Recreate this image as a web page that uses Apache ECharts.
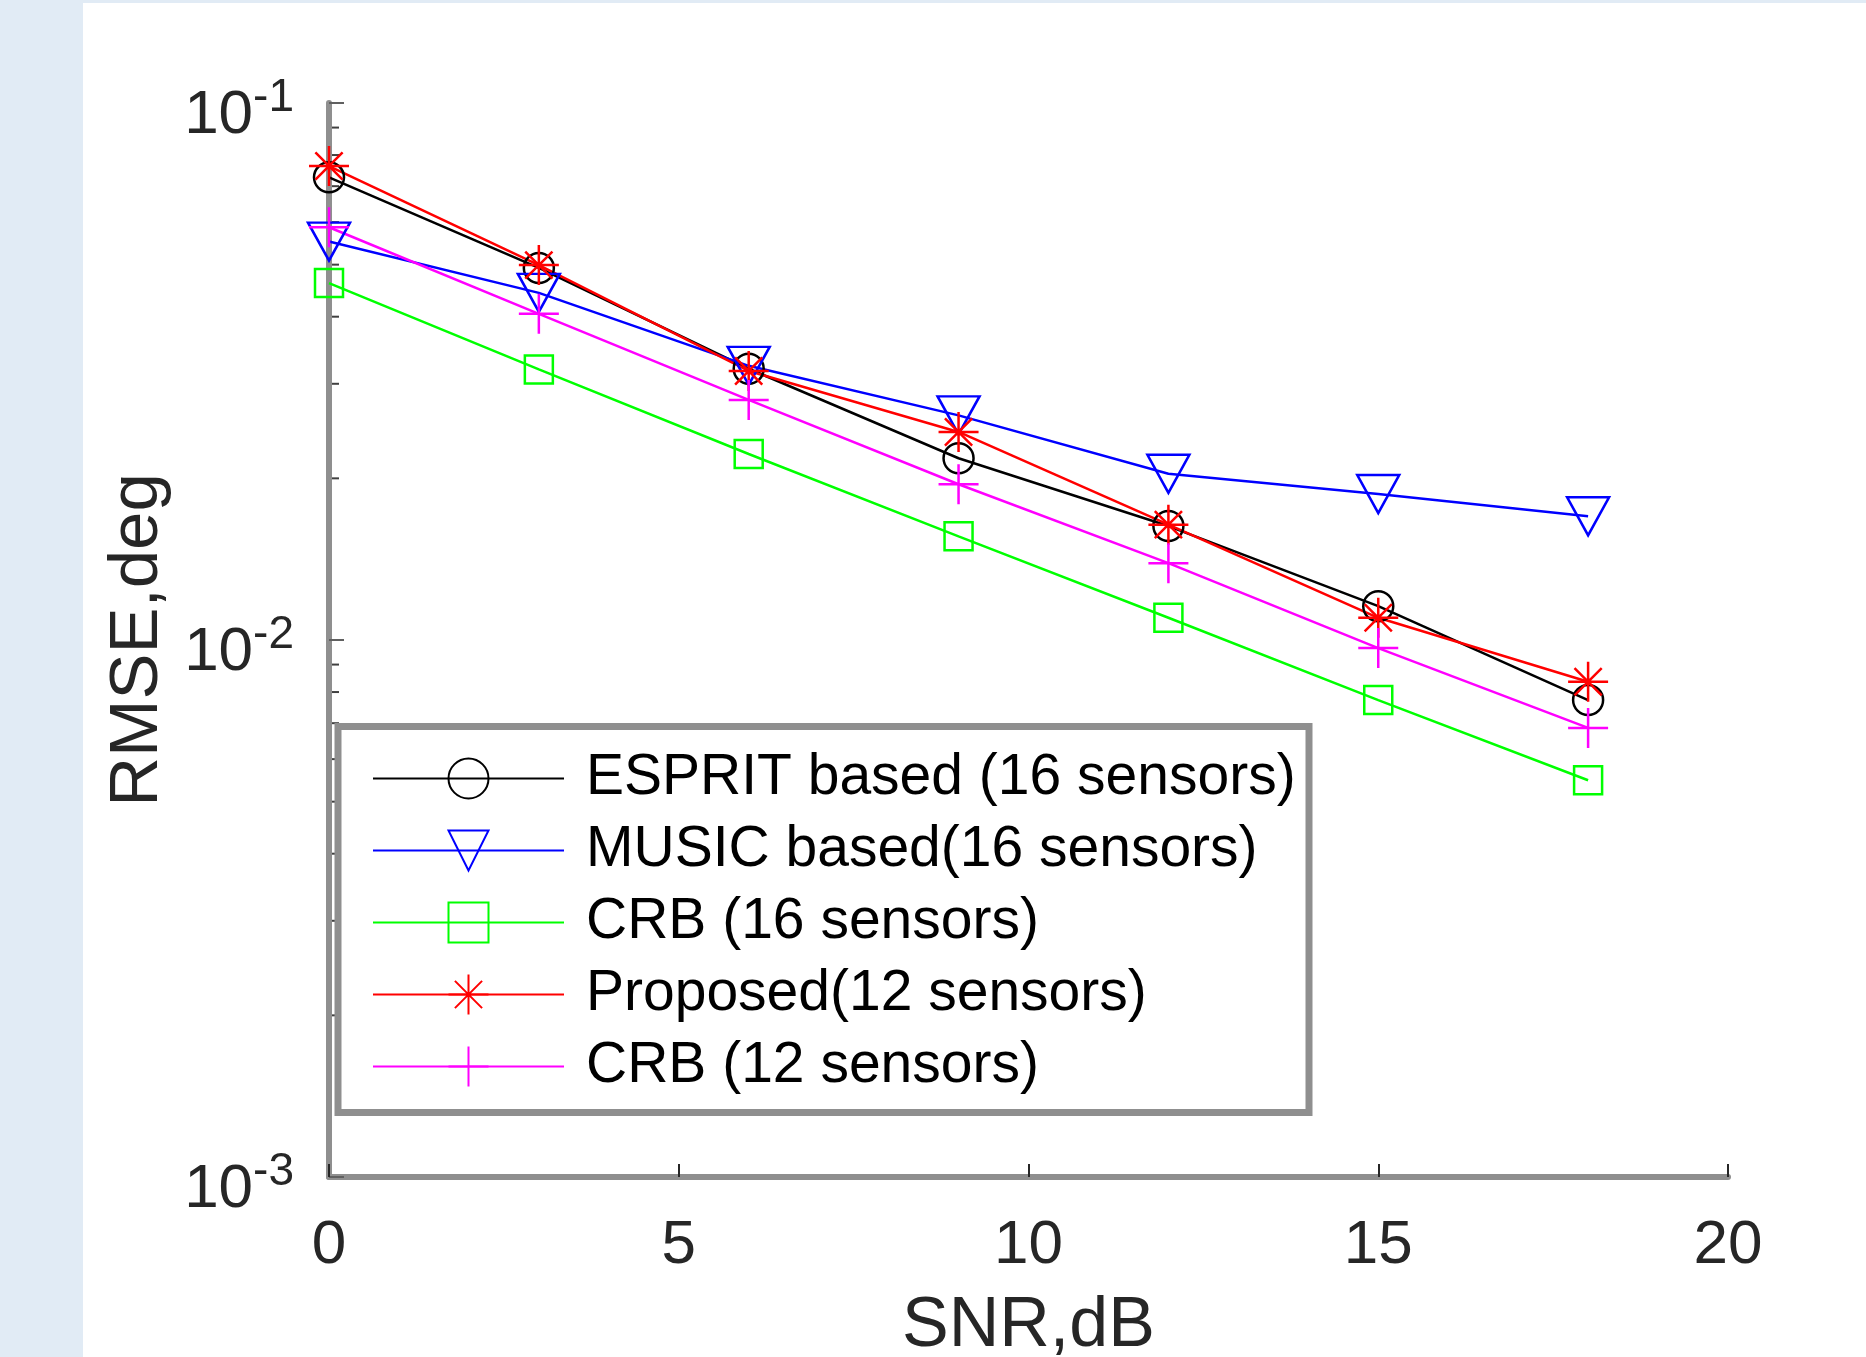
<!DOCTYPE html>
<html>
<head>
<meta charset="utf-8">
<script src="https://cdn.jsdelivr.net/npm/echarts@6/dist/echarts.min.js"></script>
<style>
  html, body { margin: 0; padding: 0; width: 1866px; height: 1357px; background: #e1ebf5; overflow: hidden; }
  #chart { position: absolute; left: 83px; top: 3px; width: 1783px; height: 1354px; background: #ffffff; }
</style>
</head>
<body>
<div id="chart"></div>
<script>
// ---- data ----
const snr = [0, 3, 6, 9, 12, 15, 18];
const espritRmse = [0.0727, 0.0493, 0.0320, 0.0218, 0.0163, 0.01156, 0.00773];
const musicRmse = [0.0552, 0.0443, 0.0324, 0.0262, 0.0204, 0.0187, 0.0170];
const crb16Rmse = [0.0462, 0.0319, 0.0222, 0.0156, 0.0110, 0.00773, 0.00548];
const proposedRmse = [0.0763, 0.0499, 0.0317, 0.0244, 0.0164, 0.0110, 0.00836];
const crb12Rmse = [0.0587, 0.0405, 0.0280, 0.0195, 0.0139, 0.00966, 0.00686];
const seriesNames = ['ESPRIT based (16 sensors)', 'MUSIC based(16 sensors)', 'CRB (16 sensors)', 'Proposed(12 sensors)', 'CRB (12 sensors)'];
const xTicks = [0, 5, 10, 15, 20];
const yMinorTicks = [0.002, 0.003, 0.004, 0.005, 0.006, 0.007, 0.008, 0.009,
                     0.02, 0.03, 0.04, 0.05, 0.06, 0.07, 0.08, 0.09];

const pairs = arr => snr.map((x, i) => [x, arr[i]]);

const FONT = '"Liberation Sans", Arial, Helvetica, sans-serif';
const AXIS_GRAY = '#8f8f8f';
const TEXT = '#262626';

function lineSeries(name, data, color, symbol, size) {
  return {
    type: 'line',
    name: name,
    data: pairs(data),
    symbol: symbol,
    symbolSize: size,
    showSymbol: true,
    lineStyle: { color: color, width: 2.5 },
    itemStyle: { color: 'none', borderColor: color, borderWidth: 2.5 },
    emphasis: { disabled: true },
    silent: true,
    z: 3
  };
}

const chart = echarts.init(document.getElementById('chart'), null, { renderer: 'canvas' });

const option = {
  animation: false,
  backgroundColor: '#ffffff',
  grid: { left: 246, right: 138, top: 100, bottom: 180, containLabel: false, outerBoundsMode: 'none' },
  xAxis: {
    type: 'value',
    min: 0, max: 20, interval: 5,
    name: 'SNR,dB',
    nameLocation: 'middle',
    nameGap: 115,
    nameTextStyle: { fontFamily: FONT, fontSize: 70, color: TEXT },
    axisLine: { show: true, lineStyle: { color: AXIS_GRAY, width: 6 } },
    axisTick: { show: true, inside: true, length: 13, lineStyle: { color: TEXT, width: 2 } },
    axisLabel: { fontFamily: FONT, fontSize: 62, color: TEXT, margin: 38,
                 formatter: v => xTicks.includes(v) ? String(v) : '' },
    splitLine: { show: false }
  },
  yAxis: {
    type: 'log',
    logBase: 10,
    min: 0.001, max: 0.1,
    name: 'RMSE,deg',
    nameLocation: 'middle',
    nameGap: 157,
    nameTextStyle: { fontFamily: FONT, fontSize: 69, color: TEXT },
    axisLine: { show: true, lineStyle: { color: AXIS_GRAY, width: 6 } },
    axisTick: { show: true, inside: true, length: 15, lineStyle: { color: '#606060', width: 2 } },
    axisLabel: {
      margin: 35,
      padding: [16, 0, 0, 0],
      formatter: v => '{b|10}{s|' + Math.round(Math.log10(v)) + '}',
      rich: {
        b: { fontFamily: FONT, fontSize: 62, color: TEXT, lineHeight: 72, verticalAlign: 'bottom' },
        s: { fontFamily: FONT, fontSize: 46, color: TEXT, lineHeight: 72, verticalAlign: 'top' }
      }
    },
    splitLine: { show: false }
  },
  legend: {
    data: seriesNames,
    orient: 'vertical',
    left: 289,
    top: 747,
    padding: 0,
    itemWidth: 191,
    itemHeight: 50,
    itemGap: 15,
    z: 10,
    selectedMode: false,
    textStyle: { fontFamily: FONT, fontSize: 57, color: '#000', padding: [0, 0, 0, 17] }
  },
  graphic: [{
    type: 'rect',
    z: 8,
    silent: true,
    shape: { x: 255, y: 723.5, width: 971, height: 386 },
    style: { fill: '#ffffff', stroke: AXIS_GRAY, lineWidth: 7 }
  }],
  series: [
    lineSeries(seriesNames[0], espritRmse, '#000000', 'circle', 30),
    lineSeries(seriesNames[1], musicRmse, '#0000ff', 'path://M0,0 L10,0 L5,10 Z', [42, 38]),
    lineSeries(seriesNames[2], crb16Rmse, '#00ff00', 'rect', 28),
    lineSeries(seriesNames[3], proposedRmse, '#ff0000',
      'path://M5,0 L5,10 M0,5 L10,5 M1.6,1.6 L8.4,8.4 M8.4,1.6 L1.6,8.4', 40),
    lineSeries(seriesNames[4], crb12Rmse, '#ff00ff', 'path://M5,0 L5,10 M0,5 L10,5', 40),
    {
      type: 'custom',
      silent: true,
      z: 2,
      data: yMinorTicks.map(v => [0, v]),
      renderItem: function (params, api) {
        const p = api.coord([api.value(0), api.value(1)]);
        return {
          type: 'line',
          shape: { x1: p[0] + 3, y1: p[1], x2: p[0] + 10, y2: p[1] },
          style: { stroke: '#404040', lineWidth: 2 }
        };
      }
    }
  ]
};

chart.setOption(option);
</script>
</body>
</html>
